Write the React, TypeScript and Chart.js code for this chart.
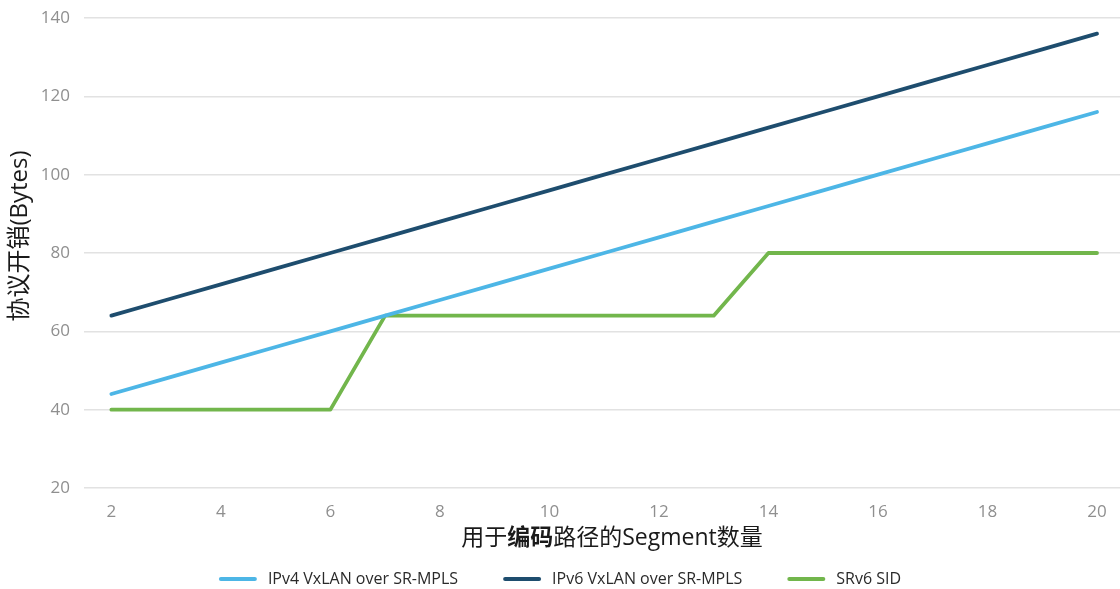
import React, { useEffect, useRef } from "react";
import { Chart, registerables } from "chart.js";

Chart.register(...registerables);

const segments = [2, 3, 4, 5, 6, 7, 8, 9, 10, 11, 12, 13, 14, 15, 16, 17, 18, 19, 20];
const ipv4Values = [44, 48, 52, 56, 60, 64, 68, 72, 76, 80, 84, 88, 92, 96, 100, 104, 108, 112, 116];
const ipv6Values = [64, 68, 72, 76, 80, 84, 88, 92, 96, 100, 104, 108, 112, 116, 120, 124, 128, 132, 136];
const srv6Values = [40, 40, 40, 40, 40, 64, 64, 64, 64, 64, 64, 64, 80, 80, 80, 80, 80, 80, 80];
const xTickValues = [2, 4, 6, 8, 10, 12, 14, 16, 18, 20];
const seriesLabels = ["IPv4 VxLAN over SR-MPLS", "IPv6 VxLAN over SR-MPLS", "SRv6 SID"];
const seriesColors = ["#4db6e6", "#1e4d6e", "#72b64c"];
const yTitle = "协议开销(Bytes)";
const xTitleParts = [
  { text: "用于", bold: false },
  { text: "编码", bold: true },
  { text: "路径的Segment数量", bold: false },
];

const FAMILY = "'Open Sans', 'Noto Sans CJK SC', sans-serif";

const textPlugin = {
  id: "customText",
  afterDraw(chart: any) {
    const ctx: CanvasRenderingContext2D = chart.ctx;
    const area = chart.chartArea;
    // Y title
    ctx.save();
    ctx.translate(20, 236);
    ctx.rotate(-Math.PI / 2);
    ctx.font = `24px ${FAMILY}`;
    ctx.fillStyle = "#1a1a1a";
    ctx.textAlign = "center";
    ctx.textBaseline = "middle";
    ctx.fillText(yTitle, 0, 0);
    ctx.restore();

    // X title
    ctx.save();
    ctx.fillStyle = "#1a1a1a";
    ctx.textBaseline = "middle";
    ctx.textAlign = "left";
    const widths = xTitleParts.map((p) => {
      ctx.font = `${p.bold ? "bold " : ""}23px ${FAMILY}`;
      return ctx.measureText(p.text).width;
    });
    const total = widths.reduce((a, b) => a + b, 0);
    let x = (area.left + area.right) / 2 + 10 - total / 2;
    xTitleParts.forEach((p, i) => {
      ctx.font = `${p.bold ? "bold " : ""}23px ${FAMILY}`;
      ctx.fillText(p.text, x, 538);
      x += widths[i];
    });
    ctx.restore();

    // Legend
    ctx.save();
    ctx.font = `16px ${FAMILY}`;
    ctx.textBaseline = "middle";
    ctx.textAlign = "left";
    const sampleW = 38;
    const gap = 11;
    const spacing = 45;
    const ds = chart.data.datasets;
    const tw = ds.map((d: any) => ctx.measureText(d.label).width);
    const legendTotal =
      tw.reduce((a: number, b: number) => a + b, 0) + ds.length * (sampleW + gap) + (ds.length - 1) * spacing;
    let lx = chart.width / 2 - legendTotal / 2;
    const ly = 579;
    ds.forEach((d: any, i: number) => {
      ctx.strokeStyle = d.borderColor;
      ctx.lineWidth = 4;
      ctx.lineCap = "round";
      ctx.beginPath();
      ctx.moveTo(lx + 2, ly);
      ctx.lineTo(lx + sampleW - 2, ly);
      ctx.stroke();
      ctx.fillStyle = "#2a2a2a";
      ctx.fillText(d.label, lx + sampleW + gap, ly);
      lx += sampleW + gap + tw[i] + spacing;
    });
    ctx.restore();
  },
};

export default function App() {
  const ref = useRef<HTMLCanvasElement | null>(null);
  useEffect(() => {
    document.body.style.margin = "0";
    if (!ref.current) return;
    const values = [ipv4Values, ipv6Values, srv6Values];
    const chart = new Chart(ref.current, {
      type: "line",
      data: {
        datasets: values.map((vals, i) => ({
          label: seriesLabels[i],
          data: segments.map((s, j) => ({ x: s, y: vals[j] })),
          borderColor: seriesColors[i],
          backgroundColor: seriesColors[i],
          borderWidth: 3.8,
          pointRadius: 0,
          tension: 0,
          fill: false,
          borderCapStyle: "round",
          borderJoinStyle: "round",
        })),
      },
      options: {
        responsive: false,
        animation: false,
        layout: { padding: { top: 18, bottom: 31, left: 0, right: 0 } },
        plugins: {
          legend: { display: false },
          tooltip: { enabled: false },
          title: { display: false },
        },
        scales: {
          x: {
            type: "linear",
            min: 1.5,
            max: 20.42,
            grid: { display: false },
            border: { display: false },
            ticks: {
              color: "#8f8f8f",
              font: { family: FAMILY, size: 17 },
              padding: 6,
              maxRotation: 0,
            },
            afterBuildTicks: (scale: any) => {
              scale.ticks = xTickValues.map((v) => ({ value: v }));
            },
            afterFit: (scale: any) => {
              scale.height = 70;
              scale.paddingLeft = 0;
              scale.paddingRight = 0;
            },
          },
          y: {
            min: 20,
            max: 140,
            ticks: {
              stepSize: 20,
              color: "#8f8f8f",
              font: { family: FAMILY, size: 17 },
              padding: 14,
            },
            grid: { color: "#e2e2e2", lineWidth: 1.5, drawTicks: false },
            border: { display: false },
            afterFit: (scale: any) => {
              scale.width = 84;
              scale.paddingTop = 0;
              scale.paddingBottom = 0;
            },
          },
        },
      },
      plugins: [textPlugin],
    } as any);
    return () => chart.destroy();
  }, []);
  return (
    <div style={{ width: 1120, height: 589 }}>
      <canvas ref={ref} width={1120} height={589} style={{ display: "block" }} />
    </div>
  );
}
